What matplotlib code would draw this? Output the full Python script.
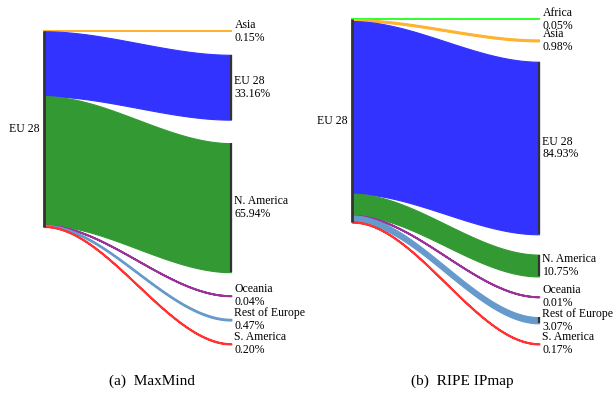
import numpy as np
import matplotlib.pyplot as plt

plt.rcParams['font.family'] = ['Liberation Serif', 'DejaVu Serif']

# MaxMind: EU 28 -> destination regions (%)
mm_labels = ["Asia", "EU 28", "N. America", "Oceania", "Rest of Europe", "S. America"]
mm_values = [0.15, 33.16, 65.94, 0.04, 0.47, 0.20]
mm_colors = ["#FFB22E", "#3333FF", "#339933", "#993399", "#6699CC", "#FF3333"]

# RIPE IPmap: EU 28 -> destination regions (%)
ripe_labels = ["Africa", "Asia", "EU 28", "N. America", "Oceania", "Rest of Europe", "S. America"]
ripe_values = [0.05, 0.98, 84.93, 10.75, 0.01, 3.07, 0.17]
ripe_colors = ["#33FF33", "#FFB22E", "#3333FF", "#339933", "#993399", "#6699CC", "#FF3333"]

source = "EU 28"
captions = ["(a)  MaxMind", "(b)  RIPE IPmap"]

W, H = 613, 394
fig = plt.figure(figsize=(W / 100, H / 100), dpi=100)


def sankey(ax, labels, values, colors):
    values = np.array(values, dtype=float)
    total = values.sum()
    gap = 0.6 * total / (len(values) - 1)
    left_top = np.concatenate([[0], np.cumsum(values)[:-1]])
    right_top = left_top + gap * np.arange(len(values))
    x = np.linspace(0, 1, 200)
    s = 3 * x**2 - 2 * x**3
    for v, lt, rt, c, lab in zip(values, left_top, right_top, colors, labels):
        top = lt + (rt - lt) * s
        bot = (lt + v) + ((rt + v) - (lt + v)) * s
        # tiny flows still show up as thin lines
        lw = 1.4 if v < 0.5 else 0.8
        ax.fill_between(x, top, bot, facecolor=c, edgecolor=c, lw=lw, clip_on=False)
        if v > 1:
            ax.plot([1, 1], [rt, rt + v], color="#333333", lw=1.6,
                    solid_capstyle="butt", clip_on=False)
        ax.annotate(f"{lab}\n{v:.2f}%", xy=(1, rt + v / 2), xytext=(2.5, 0),
                    textcoords="offset points", ha="left", va="center",
                    fontsize=8.5, linespacing=1.1, annotation_clip=False)
    ax.plot([0, 0], [0, total], color="#333333", lw=2, solid_capstyle="butt", clip_on=False)
    ax.annotate(source, xy=(0, total / 2), xytext=(-3, 0), textcoords="offset points",
                ha="right", va="center", fontsize=8.5, annotation_clip=False)
    ax.set_xlim(0, 1)
    ax.set_ylim(total * 1.6, 0)
    ax.axis("off")


panels = [
    (mm_labels, mm_values, mm_colors, (44, 231, 31, 344)),
    (ripe_labels, ripe_values, ripe_colors, (352, 539, 19, 344)),
]
for (labels, values, colors, (x0, x1, y0, y1)), cap in zip(panels, captions):
    ax = fig.add_axes([x0 / W, 1 - y1 / H, (x1 - x0) / W, (y1 - y0) / H])
    sankey(ax, labels, values, colors)

fig.text(152 / W, 1 - 381 / H, captions[0], ha="center", va="center", fontsize=11)
fig.text(462 / W, 1 - 381 / H, captions[1], ha="center", va="center", fontsize=11)

fig.savefig("out.png", dpi=100)
